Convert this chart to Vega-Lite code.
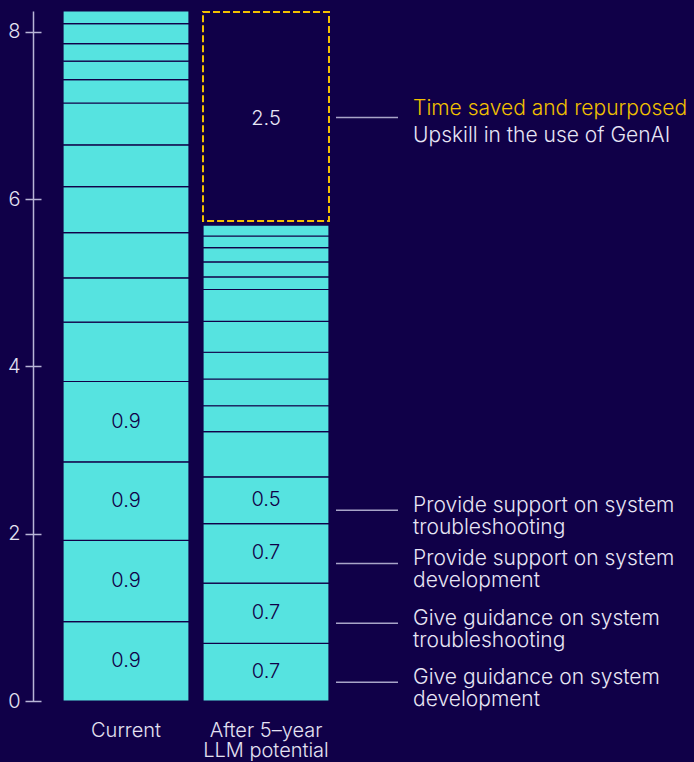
{
  "$schema": "https://vega.github.io/schema/vega-lite/v6.json",
  "width": 326,
  "height": 690,
  "autosize": {"type": "none"},
  "padding": {"left": 33, "top": 11, "right": 335, "bottom": 61},
  "background": "#100048",
  "config": {"view": {"stroke": null}, "font": "Inter", "text": {"font": "Inter", "fontWeight": 300}},
  "data": {
    "values": [
      {"bar": "Current", "i": 1, "value": 0.95, "kind": "task", "label": "0.9"},
      {"bar": "Current", "i": 2, "value": 0.97, "kind": "task", "label": "0.9"},
      {"bar": "Current", "i": 3, "value": 0.94, "kind": "task", "label": "0.9"},
      {"bar": "Current", "i": 4, "value": 0.96, "kind": "task", "label": "0.9"},
      {"bar": "Current", "i": 5, "value": 0.71, "kind": "task"},
      {"bar": "Current", "i": 6, "value": 0.53, "kind": "task"},
      {"bar": "Current", "i": 7, "value": 0.54, "kind": "task"},
      {"bar": "Current", "i": 8, "value": 0.55, "kind": "task"},
      {"bar": "Current", "i": 9, "value": 0.50, "kind": "task"},
      {"bar": "Current", "i": 10, "value": 0.50, "kind": "task"},
      {"bar": "Current", "i": 11, "value": 0.28, "kind": "task"},
      {"bar": "Current", "i": 12, "value": 0.22, "kind": "task"},
      {"bar": "Current", "i": 13, "value": 0.21, "kind": "task"},
      {"bar": "Current", "i": 14, "value": 0.24, "kind": "task"},
      {"bar": "Current", "i": 15, "value": 0.15, "kind": "task"},
      {"bar": "After", "i": 1, "value": 0.69, "kind": "task", "label": "0.7", "note1": "Give guidance on system", "note2": "development"},
      {"bar": "After", "i": 2, "value": 0.72, "kind": "task", "label": "0.7", "note1": "Give guidance on system", "note2": "troubleshooting"},
      {"bar": "After", "i": 3, "value": 0.71, "kind": "task", "label": "0.7", "note1": "Provide support on system", "note2": "development"},
      {"bar": "After", "i": 4, "value": 0.56, "kind": "task", "label": "0.5", "note1": "Provide support on system", "note2": "troubleshooting"},
      {"bar": "After", "i": 5, "value": 0.54, "kind": "task"},
      {"bar": "After", "i": 6, "value": 0.31, "kind": "task"},
      {"bar": "After", "i": 7, "value": 0.32, "kind": "task"},
      {"bar": "After", "i": 8, "value": 0.32, "kind": "task"},
      {"bar": "After", "i": 9, "value": 0.37, "kind": "task"},
      {"bar": "After", "i": 10, "value": 0.38, "kind": "task"},
      {"bar": "After", "i": 11, "value": 0.15, "kind": "task"},
      {"bar": "After", "i": 12, "value": 0.18, "kind": "task"},
      {"bar": "After", "i": 13, "value": 0.17, "kind": "task"},
      {"bar": "After", "i": 14, "value": 0.14, "kind": "task"},
      {"bar": "After", "i": 15, "value": 0.13, "kind": "task"},
      {"bar": "After", "i": 16, "value": 2.5, "kind": "saved", "label": "2.5", "note1": "Time saved and repurposed", "note2": "Upskill in the use of GenAI"}
    ]
  },
  "resolve": {"axis": {"y": "independent"}},
  "layer": [
    {
      "mark": {"type": "bar", "fill": "#56e3e0", "stroke": "#100048", "strokeWidth": 1.2},
      "encoding": {
        "x": {"field": "bar", "type": "nominal", "sort": ["Current", "After"], "scale": {"paddingInner": 0.1, "paddingOuter": 0.2143},
          "axis": {"title": null, "domain": false, "ticks": false, "labelColor": "#e4e2f2", "labelFont": "Inter", "labelFontWeight": 300, "labelFontSize": 20, "labelPadding": 19, "labelAngle": 0, "labelLineHeight": 20.5, "labelExpr": "datum.value == 'Current' ? 'Current' : ['After 5–year', 'LLM potential']"}},
        "y": {"field": "value", "type": "quantitative", "stack": "zero", "scale": {"domain": [0, 8.25], "nice": false},
          "axis": {"values": [0, 2, 4, 6, 8], "title": null, "grid": false, "offset": -8, "domain": false, "tickColor": "#b8b5d6", "tickWidth": 1.5, "tickSize": 16, "labelColor": "#e4e2f2", "labelFont": "Inter", "labelFontWeight": 300, "labelFontSize": 20, "labelPadding": 5}},
        "order": {"field": "i", "type": "quantitative"},
        "opacity": {"condition": {"test": "datum.kind === 'saved'", "value": 0}, "value": 1}
      }
    },
    {
      "mark": {"type": "bar", "fillOpacity": 0, "stroke": "#f2c100", "strokeWidth": 2, "strokeDash": [7, 3], "yOffset": -4},
      "encoding": {
        "x": {"field": "bar", "type": "nominal", "sort": ["Current", "After"], "scale": {"paddingInner": 0.1, "paddingOuter": 0.2143},
          "axis": {"title": null, "domain": false, "ticks": false, "labelColor": "#e4e2f2", "labelFont": "Inter", "labelFontWeight": 300, "labelFontSize": 20, "labelPadding": 19, "labelAngle": 0, "labelLineHeight": 20.5, "labelExpr": "datum.value == 'Current' ? 'Current' : ['After 5–year', 'LLM potential']"}},
        "y": {"field": "value", "type": "quantitative", "stack": "zero",
          "axis": {"orient": "left", "values": [0, 2, 4, 6, 8], "title": null, "grid": false, "domain": true, "domainColor": "#b8b5d6", "domainWidth": 1.5, "ticks": false, "labels": false}},
        "order": {"field": "i", "type": "quantitative"},
        "opacity": {"condition": {"test": "datum.kind === 'saved'", "value": 1}, "value": 0}
      }
    },
    {
      "mark": {"type": "text", "fontSize": 20, "color": "#100048", "baseline": "middle"},
      "encoding": {
        "x": {"field": "bar", "type": "nominal", "sort": ["Current", "After"], "scale": {"paddingInner": 0.1, "paddingOuter": 0.2143},
          "axis": {"title": null, "domain": false, "ticks": false, "labelColor": "#e4e2f2", "labelFont": "Inter", "labelFontWeight": 300, "labelFontSize": 20, "labelPadding": 19, "labelAngle": 0, "labelLineHeight": 20.5, "labelExpr": "datum.value == 'Current' ? 'Current' : ['After 5–year', 'LLM potential']"}},
        "y": {"field": "value", "type": "quantitative", "stack": "zero", "bandPosition": 0.5, "axis": null},
        "order": {"field": "i", "type": "quantitative"},
        "text": {"field": "label"},
        "opacity": {"condition": {"test": "datum.label && datum.kind === 'task'", "value": 1}, "value": 0}
      }
    },
    {
      "mark": {"type": "text", "fontSize": 20, "color": "#e8e6f5", "baseline": "middle", "dy": -2},
      "encoding": {
        "x": {"field": "bar", "type": "nominal", "sort": ["Current", "After"], "scale": {"paddingInner": 0.1, "paddingOuter": 0.2143},
          "axis": {"title": null, "domain": false, "ticks": false, "labelColor": "#e4e2f2", "labelFont": "Inter", "labelFontWeight": 300, "labelFontSize": 20, "labelPadding": 19, "labelAngle": 0, "labelLineHeight": 20.5, "labelExpr": "datum.value == 'Current' ? 'Current' : ['After 5–year', 'LLM potential']"}},
        "y": {"field": "value", "type": "quantitative", "stack": "zero", "bandPosition": 0.5, "axis": null},
        "order": {"field": "i", "type": "quantitative"},
        "text": {"field": "label"},
        "opacity": {"condition": {"test": "datum.kind === 'saved'", "value": 1}, "value": 0}
      }
    },
    {
      "mark": {"type": "tick", "size": 62, "thickness": 1.5, "color": "#a8a4c8", "yOffset": 10, "xOffset": 101},
      "encoding": {
        "x": {"field": "bar", "type": "nominal", "sort": ["Current", "After"], "scale": {"paddingInner": 0.1, "paddingOuter": 0.2143},
          "axis": {"title": null, "domain": false, "ticks": false, "labelColor": "#e4e2f2", "labelFont": "Inter", "labelFontWeight": 300, "labelFontSize": 20, "labelPadding": 19, "labelAngle": 0, "labelLineHeight": 20.5, "labelExpr": "datum.value == 'Current' ? 'Current' : ['After 5–year', 'LLM potential']"}},
        "y": {"field": "value", "type": "quantitative", "stack": "zero", "bandPosition": 0.5, "axis": null},
        "order": {"field": "i", "type": "quantitative"},
        "opacity": {"condition": {"test": "datum.note1 && datum.kind === 'task'", "value": 1}, "value": 0}
      }
    },
    {
      "mark": {"type": "tick", "size": 62, "thickness": 1.5, "color": "#a8a4c8", "yOffset": -3, "xOffset": 101},
      "encoding": {
        "x": {"field": "bar", "type": "nominal", "sort": ["Current", "After"], "scale": {"paddingInner": 0.1, "paddingOuter": 0.2143},
          "axis": {"title": null, "domain": false, "ticks": false, "labelColor": "#e4e2f2", "labelFont": "Inter", "labelFontWeight": 300, "labelFontSize": 20, "labelPadding": 19, "labelAngle": 0, "labelLineHeight": 20.5, "labelExpr": "datum.value == 'Current' ? 'Current' : ['After 5–year', 'LLM potential']"}},
        "y": {"field": "value", "type": "quantitative", "stack": "zero", "bandPosition": 0.5, "axis": null},
        "order": {"field": "i", "type": "quantitative"},
        "opacity": {"condition": {"test": "datum.kind === 'saved'", "value": 1}, "value": 0}
      }
    },
    {
      "mark": {"type": "text", "fontSize": 21, "color": "#e8e6f5", "align": "left", "baseline": "alphabetic", "dy": 12},
      "encoding": {
        "x": {"field": "bar", "type": "nominal", "sort": ["Current", "After"], "scale": {"paddingInner": 0.1, "paddingOuter": 0.2143}, "bandPosition": 1.667,
          "axis": {"title": null, "domain": false, "ticks": false, "labelColor": "#e4e2f2", "labelFont": "Inter", "labelFontWeight": 300, "labelFontSize": 20, "labelPadding": 19, "labelAngle": 0, "labelLineHeight": 20.5, "labelExpr": "datum.value == 'Current' ? 'Current' : ['After 5–year', 'LLM potential']"}},
        "y": {"field": "value", "type": "quantitative", "stack": "zero", "bandPosition": 0.5, "axis": null},
        "order": {"field": "i", "type": "quantitative"},
        "text": {"field": "note1"},
        "opacity": {"condition": {"test": "datum.note1 && datum.kind === 'task'", "value": 1}, "value": 0}
      }
    },
    {
      "mark": {"type": "text", "fontSize": 21, "color": "#e8e6f5", "align": "left", "baseline": "alphabetic", "dy": 34},
      "encoding": {
        "x": {"field": "bar", "type": "nominal", "sort": ["Current", "After"], "scale": {"paddingInner": 0.1, "paddingOuter": 0.2143}, "bandPosition": 1.667,
          "axis": {"title": null, "domain": false, "ticks": false, "labelColor": "#e4e2f2", "labelFont": "Inter", "labelFontWeight": 300, "labelFontSize": 20, "labelPadding": 19, "labelAngle": 0, "labelLineHeight": 20.5, "labelExpr": "datum.value == 'Current' ? 'Current' : ['After 5–year', 'LLM potential']"}},
        "y": {"field": "value", "type": "quantitative", "stack": "zero", "bandPosition": 0.5, "axis": null},
        "order": {"field": "i", "type": "quantitative"},
        "text": {"field": "note2"},
        "opacity": {"condition": {"test": "datum.note2 && datum.kind === 'task'", "value": 1}, "value": 0}
      }
    },
    {
      "mark": {"type": "text", "fontSize": 21, "color": "#f2c100", "align": "left", "baseline": "alphabetic", "dy": -5.5},
      "encoding": {
        "x": {"field": "bar", "type": "nominal", "sort": ["Current", "After"], "scale": {"paddingInner": 0.1, "paddingOuter": 0.2143}, "bandPosition": 1.667,
          "axis": {"title": null, "domain": false, "ticks": false, "labelColor": "#e4e2f2", "labelFont": "Inter", "labelFontWeight": 300, "labelFontSize": 20, "labelPadding": 19, "labelAngle": 0, "labelLineHeight": 20.5, "labelExpr": "datum.value == 'Current' ? 'Current' : ['After 5–year', 'LLM potential']"}},
        "y": {"field": "value", "type": "quantitative", "stack": "zero", "bandPosition": 0.5, "axis": null},
        "order": {"field": "i", "type": "quantitative"},
        "text": {"field": "note1"},
        "opacity": {"condition": {"test": "datum.kind === 'saved'", "value": 1}, "value": 0}
      }
    },
    {
      "mark": {"type": "text", "fontSize": 21, "color": "#e8e6f5", "align": "left", "baseline": "alphabetic", "dy": 21},
      "encoding": {
        "x": {"field": "bar", "type": "nominal", "sort": ["Current", "After"], "scale": {"paddingInner": 0.1, "paddingOuter": 0.2143}, "bandPosition": 1.667,
          "axis": {"title": null, "domain": false, "ticks": false, "labelColor": "#e4e2f2", "labelFont": "Inter", "labelFontWeight": 300, "labelFontSize": 20, "labelPadding": 19, "labelAngle": 0, "labelLineHeight": 20.5, "labelExpr": "datum.value == 'Current' ? 'Current' : ['After 5–year', 'LLM potential']"}},
        "y": {"field": "value", "type": "quantitative", "stack": "zero", "bandPosition": 0.5, "axis": null},
        "order": {"field": "i", "type": "quantitative"},
        "text": {"field": "note2"},
        "opacity": {"condition": {"test": "datum.kind === 'saved'", "value": 1}, "value": 0}
      }
    }
  ]
}
